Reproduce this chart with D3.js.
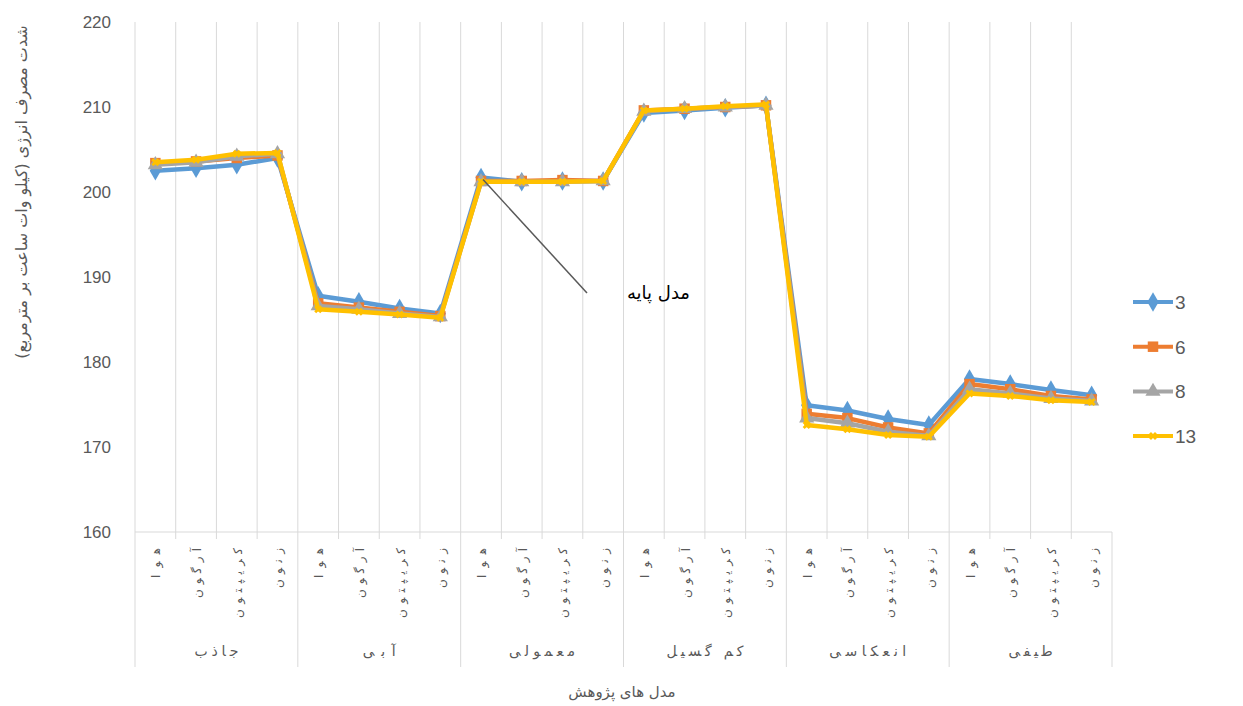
<!DOCTYPE html>
<html>
<head>
<meta charset="utf-8">
<script src="https://cdn.jsdelivr.net/npm/d3@7"></script>
<style>
  body { margin: 0; background: #fff; }
  svg text { fill: #595959; }
</style>
</head>
<body>
<div id="main"></div>
<script>

// chart data
var groups = ["جاذب", "آبی", "معمولی", "کم گسیل", "انعکاسی", "طیفی"];
var gases = ["هوا", "آرگون", "کریپتون", "زنون"];
var seriesNames = ["3", "6", "8", "13"];

var s3 = [202.5, 202.8, 203.2, 204.0,  187.8, 187.1, 186.3, 185.7,  201.7, 201.2, 201.3, 201.3,
          209.3, 209.6, 209.9, 210.2,  174.9, 174.3, 173.3, 172.6,  178.0, 177.4, 176.7, 176.1];
var s6 = [203.4, 203.6, 204.0, 204.3,  186.9, 186.4, 185.9, 185.4,  201.3, 201.3, 201.4, 201.3,
          209.6, 209.8, 210.0, 210.2,  173.9, 173.4, 172.3, 171.6,  177.4, 176.8, 176.0, 175.6];
var s8 = [203.2, 203.5, 204.2, 204.5,  186.6, 186.2, 185.7, 185.3,  201.2, 201.2, 201.2, 201.3,
          209.5, 209.8, 210.0, 210.2,  173.4, 172.8, 171.8, 171.3,  176.8, 176.3, 175.7, 175.4];
var s13 = [203.5, 203.8, 204.5, 204.6, 186.2, 185.9, 185.6, 185.2,  201.2, 201.2, 201.2, 201.3,
           209.6, 209.8, 210.1, 210.3,  172.6, 172.1, 171.4, 171.2,  176.3, 176.0, 175.5, 175.3];
var yTicks = [160, 170, 180, 190, 200, 210, 220];

var colors = ["#5b9bd5", "#ed7d31", "#a5a5a5", "#ffc000"];
var allSeries = [s3, s6, s8, s13];

var w = 1243, h = 706;
var plotL = 135, plotR = 1112, plotT = 22, plotB = 532;

var svg = d3.select("#main").append("svg")
    .attr("width", w)
    .attr("height", h);

// one band per category (group x gas)
var cats = [];
groups.forEach(function(g, gi) {
  gases.forEach(function(gs, i) {
    cats.push({ group: gi, gas: gs, key: gi + "_" + i });
  });
});

var x = d3.scaleBand()
    .domain(cats.map(function(d) { return d.key; }))
    .range([plotL, plotR]);

var y = d3.scaleLinear()
    .domain([160, 220])
    .range([plotB, plotT]);

// vertical gridlines between categories
svg.append("g").selectAll("line")
  .data(cats.slice(1))
  .enter().append("line")
  .attr("x1", function(d) { return x(d.key); })
  .attr("x2", function(d) { return x(d.key); })
  .attr("y1", plotT)
  .attr("y2", plotB)
  .attr("stroke", "#d9d9d9")
  .attr("stroke-width", 1);

// axes lines
svg.append("line")
  .attr("x1", plotL).attr("x2", plotL)
  .attr("y1", plotT).attr("y2", plotB)
  .attr("stroke", "#d9d9d9");
svg.append("line")
  .attr("x1", plotL).attr("x2", plotR)
  .attr("y1", plotB).attr("y2", plotB)
  .attr("stroke", "#d9d9d9");

// small ticks below axis at each category, long ones at group boundaries
svg.append("g").selectAll("line")
  .data(cats.concat([{ key: "end", gas: null }]))
  .enter().append("line")
  .attr("x1", function(d) { return d.key == "end" ? plotR : x(d.key); })
  .attr("x2", function(d) { return d.key == "end" ? plotR : x(d.key); })
  .attr("y1", plotB)
  .attr("y2", function(d, i) { return (i % 4 == 0) ? 667 : plotB + 7; })
  .attr("stroke", "#d9d9d9");

// y tick labels
svg.append("g").selectAll("text")
  .data(yTicks)
  .enter().append("text")
  .attr("x", 111)
  .attr("y", function(d) { return y(d) + 6; })
  .attr("text-anchor", "end")
  .style("font-family", "Liberation Sans, Arial, sans-serif")
  .style("font-size", "17px")
  .text(function(d) { return d; });

// category labels, rotated and spread out like excel does it
svg.append("g").selectAll("text")
  .data(cats)
  .enter().append("text")
  .attr("transform", function(d) {
    return "translate(" + (x(d.key) + x.bandwidth() / 2 + 5) + ",548) rotate(-90)";
  })
  .attr("text-anchor", "end")
  .attr("textLength", function(d) { return d.gas.length * 10; })
  .attr("lengthAdjust", "spacing")
  .style("font-family", "DejaVu Sans, sans-serif")
  .style("font-size", "12px")
  .text(function(d) { return d.gas; });

// group labels
svg.append("g").selectAll("text")
  .data(groups)
  .enter().append("text")
  .attr("x", function(d, i) { return x(i + "_0") + x.bandwidth() * 2; })
  .attr("y", 656)
  .attr("text-anchor", "middle")
  .attr("textLength", function(d) { return d.length * 11; })
  .attr("lengthAdjust", "spacing")
  .style("font-family", "DejaVu Sans, sans-serif")
  .style("font-size", "14px")
  .text(function(d) { return d; });

// axis titles
svg.append("text")
  .attr("x", 622).attr("y", 697)
  .attr("text-anchor", "middle")
  .style("font-family", "DejaVu Sans, sans-serif")
  .style("font-size", "15px")
  .text("مدل های پژوهش");

svg.append("text")
  .attr("transform", "translate(27,192) rotate(-90)")
  .attr("text-anchor", "middle")
  .style("font-family", "DejaVu Sans, sans-serif")
  .style("font-size", "16px")
  .text("شدت مصرف انرژی (کیلو وات ساعت بر مترمربع)");

// lines
var line = d3.line()
    .x(function(d, i) { return x(cats[i].key) + x.bandwidth() / 2; })
    .y(function(d) { return y(d); });

var markerShapes = [d3.symbolDiamond, d3.symbolSquare, d3.symbolTriangle, d3.symbolCross];
var markerSizes = [110, 110, 100, 40];

allSeries.forEach(function(s, si) {
  svg.append("path")
    .datum(s)
    .attr("d", line)
    .attr("fill", "none")
    .attr("stroke", colors[si])
    .attr("stroke-width", 4.5)
    .attr("stroke-linejoin", "round");

  svg.append("g").selectAll("path")
    .data(s)
    .enter().append("path")
    .attr("d", d3.symbol().type(markerShapes[si]).size(markerSizes[si]))
    .attr("transform", function(d, i) {
      return "translate(" + (x(cats[i].key) + x.bandwidth() / 2) + "," + y(d) + ")" + (si == 3 ? " rotate(45)" : "");
    })
    .attr("fill", colors[si]);
});

// annotation
var baseX = x("2_0") + x.bandwidth() / 2;
svg.append("line")
  .attr("x1", baseX + 2).attr("y1", y(s3[8]) + 2)
  .attr("x2", 587).attr("y2", 293)
  .attr("stroke", "#595959")
  .attr("stroke-width", 1.5);
svg.append("text")
  .attr("x", 690).attr("y", 299)
  .attr("text-anchor", "end")
  .style("font-family", "DejaVu Sans, sans-serif")
  .style("font-size", "18px")
  .style("fill", "#000")
  .text("مدل پایه");

// legend
var legend = svg.append("g").selectAll("g")
  .data(seriesNames)
  .enter().append("g")
  .attr("transform", function(d, i) { return "translate(1133," + (302 + i * 44.7) + ")"; });

legend.append("line")
  .attr("x1", 0).attr("x2", 40)
  .attr("stroke", function(d, i) { return colors[i]; })
  .attr("stroke-width", 4);
legend.append("path")
  .attr("d", function(d, i) { return d3.symbol().type(markerShapes[i]).size(markerSizes[i])(); })
  .attr("transform", function(d, i) { return "translate(20,0)" + (i == 3 ? " rotate(45)" : ""); })
  .attr("fill", function(d, i) { return colors[i]; });
legend.append("text")
  .attr("x", 42).attr("y", 7)
  .style("font-family", "Liberation Sans, Arial, sans-serif")
  .style("font-size", "19px")
  .text(function(d) { return d; });

</script>
</body>
</html>
